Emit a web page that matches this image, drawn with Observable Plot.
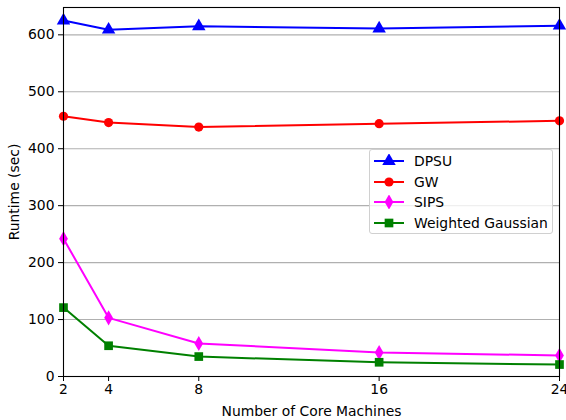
<!DOCTYPE html>
<html>
<head>
<meta charset="utf-8">
<script src="https://cdn.jsdelivr.net/npm/d3@7"></script>
<script src="https://cdn.jsdelivr.net/npm/@observablehq/plot@0.6"></script>
<style>
  body { margin: 0; background: #fff; }
  #wrap { position: relative; width: 566px; height: 420px; font-family: "DejaVu Sans", sans-serif; overflow: hidden; }
  #legend { position: absolute; left: 369px; top: 149px; width: 184px; height: 85px;
    border: 1px solid #d0d0d0; border-radius: 3px; background: rgba(255,255,255,0.8);
    font-size: 13.9px; color: #000; box-sizing: border-box; padding: 1px 0 0 4px; }
  .row { display: flex; align-items: center; height: 20.6px; }
  .row svg { margin-right: 10px; }
</style>
</head>
<body>
<div id="wrap"></div>
<script>
const machines = [2, 4, 8, 16, 24];
const seriesNames = ["DPSU", "GW", "SIPS", "Weighted Gaussian"];
const dpsu = [625, 609, 615, 611, 616];
const gw = [457, 446, 438, 444, 449];
const sips = [242, 103, 58, 42, 37];
const weighted = [121, 54, 35, 25, 21];
const yTicks = [0, 100, 200, 300, 400, 500, 600];
const colors = ["#0000ff", "#ff0000", "#ff00ff", "#008000"];
const symbols = ["triangle", "circle", "diamond", "square"];

const values = [dpsu, gw, sips, weighted];
const data = [];
seriesNames.forEach((s, i) => machines.forEach((m, j) => data.push({series: s, x: m, y: values[i][j]})));

const colorScale = {domain: seriesNames, range: colors};
const symbolScale = {domain: seriesNames, range: symbols};
const radii = [5, 4.6, 4.6, 4.9];

const chart = Plot.plot({
  width: 566,
  height: 420,
  marginLeft: 63,
  marginRight: 7,
  marginTop: 7,
  marginBottom: 44,
  style: {fontFamily: "DejaVu Sans, sans-serif", fontSize: "13.9px", color: "#000", background: "#fff", overflow: "visible"},
  x: {type: "linear", domain: [2, 24]},
  y: {domain: [0, 648]},
  color: colorScale,
  symbol: symbolScale,
  marks: [
    Plot.gridY(yTicks, {stroke: "#b0b0b0", strokeOpacity: 1, strokeWidth: 1.1}),
    Plot.axisY({ticks: yTicks, tickSize: 5, tickPadding: 4, stroke: "#000", label: "Runtime (sec)", labelAnchor: "center", labelOffset: 54, labelArrow: "none", fontSize: 13.9}),
    Plot.axisX({ticks: machines, tickSize: 5, tickPadding: 3, stroke: "#000", label: "Number of Core Machines", labelAnchor: "center", labelOffset: 39, labelArrow: "none", fontSize: 13.9}),
    Plot.line(data, {x: "x", y: "y", z: "series", stroke: "series", strokeWidth: 2}),
    ...seriesNames.map((s, i) => Plot.dot(data.filter(d => d.series === s), {x: "x", y: "y", fill: "series", symbol: "series", r: radii[i], stroke: "none"})),
    Plot.frame({stroke: "#000", strokeWidth: 1.1})
  ]
});

const wrap = document.getElementById("wrap");
wrap.appendChild(chart);

const legend = document.createElement("div");
legend.id = "legend";
const d3sym = {triangle: d3.symbolTriangle, circle: d3.symbolCircle, diamond: d3.symbolDiamond, square: d3.symbolSquare};
seriesNames.forEach((s, i) => {
  const row = document.createElement("div");
  row.className = "row";
  const sym = d3.symbol(d3sym[symbols[i]], Math.PI * radii[i] ** 2)();
  row.innerHTML = `<svg width="30" height="14" viewBox="0 0 30 14"><line x1="0" x2="30" y1="7" y2="7" stroke="${colors[i]}" stroke-width="2"/><path d="${sym}" transform="translate(15,7)" fill="${colors[i]}"/></svg><span>${s}</span>`;
  legend.appendChild(row);
});
wrap.appendChild(legend);
</script>
</body>
</html>
